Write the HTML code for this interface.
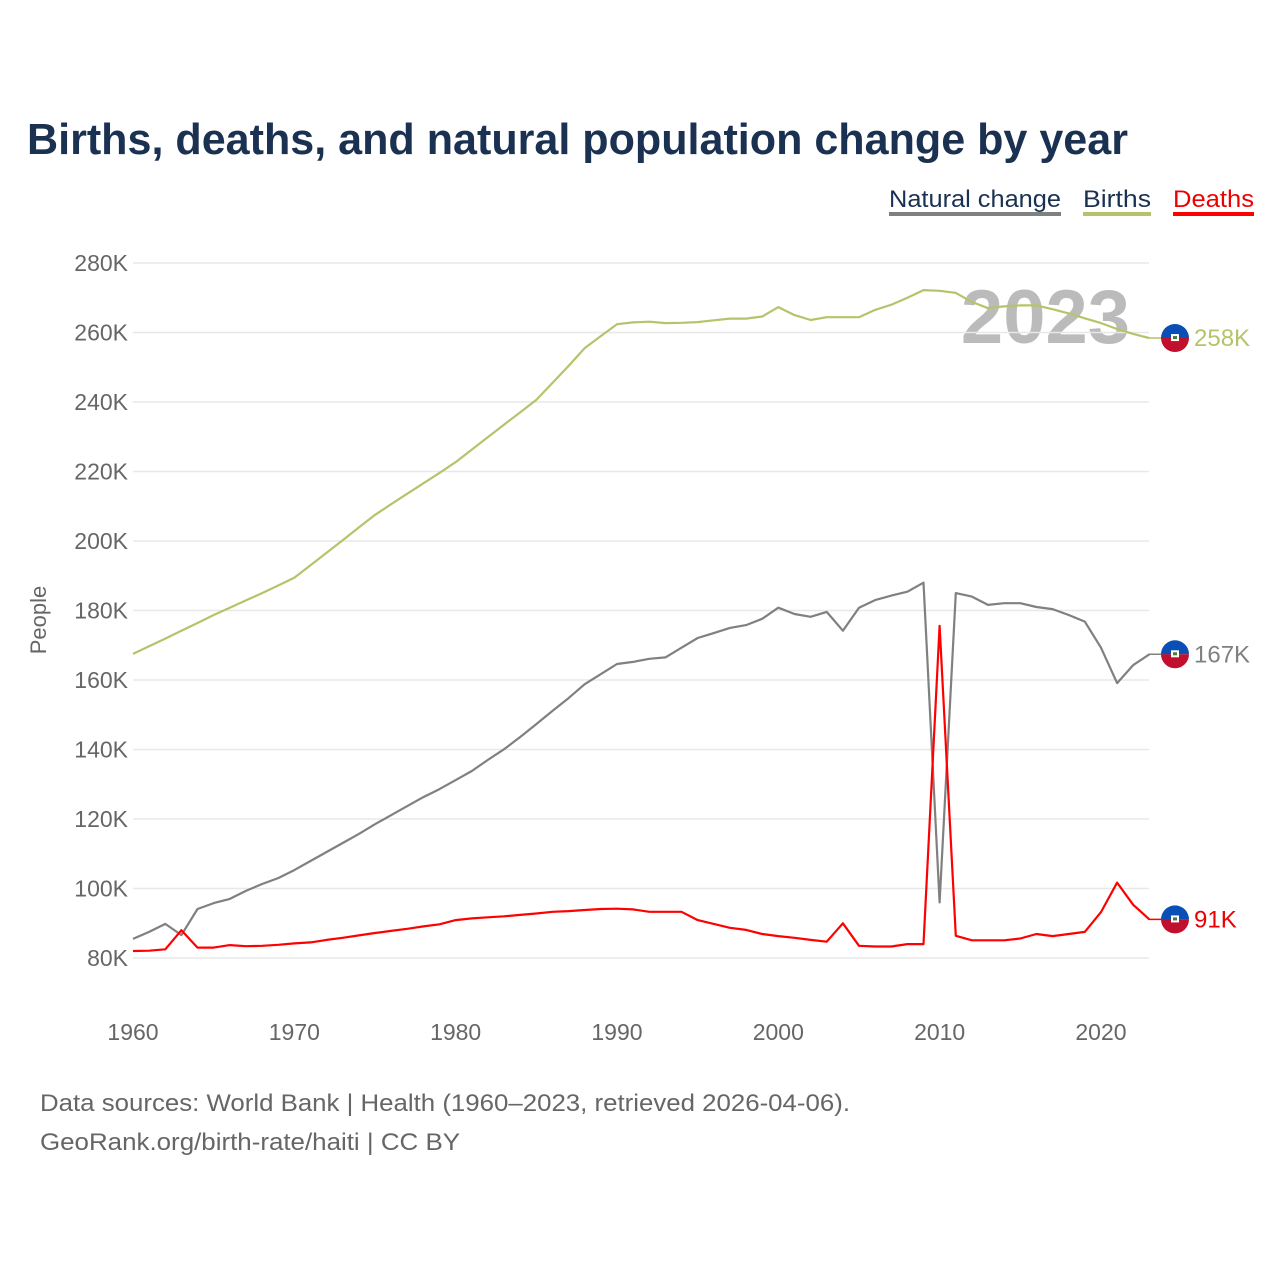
<!DOCTYPE html>
<html><head><meta charset="utf-8"><style>
html,body{margin:0;padding:0;background:#fff;}
svg text{font-family:"Liberation Sans",sans-serif;}
</style></head><body>
<svg width="1280" height="1280" viewBox="0 0 1280 1280">
<text x="27" y="154" font-size="44" font-weight="bold" fill="#1a3152" textLength="1101" lengthAdjust="spacingAndGlyphs">Births, deaths, and natural population change by year</text>
<g>
<g><text x="889" y="207" font-size="24" fill="#1a3152" textLength="172" lengthAdjust="spacingAndGlyphs">Natural change</text><rect x="889" y="212" width="172" height="4" fill="#808080"/></g>
<g><text x="1083" y="207" font-size="24" fill="#1a3152" textLength="68" lengthAdjust="spacingAndGlyphs">Births</text><rect x="1083" y="212" width="68" height="4" fill="#b5c46a"/></g>
<g><text x="1173" y="207" font-size="24" fill="#e00" textLength="81" lengthAdjust="spacingAndGlyphs">Deaths</text><rect x="1173" y="212" width="81" height="4" fill="#f00"/></g>
</g>
<text transform="translate(50,620) rotate(-90)" text-anchor="middle" font-size="22" fill="#666" x="0" y="-4">People</text>
<text x="1130" y="343" text-anchor="end" font-size="76" font-weight="bold" fill="#bbb">2023</text>
<g id="grid"></g><g id="series"></g><g id="labels"></g>
<text x="40" y="1111" font-size="24" fill="#666" textLength="810" lengthAdjust="spacingAndGlyphs">Data sources: World Bank | Health (1960–2023, retrieved 2026-04-06).</text>
<text x="40" y="1150" font-size="24" fill="#666" textLength="420" lengthAdjust="spacingAndGlyphs">GeoRank.org/birth-rate/haiti | CC BY</text>
</svg>
<script>
const years = Array.from({length:64},(_,i)=>1960+i);
const births = [167.5,169.7,171.9,174.2,176.4,178.7,180.8,182.9,185.0,187.2,189.4,193.0,196.6,200.2,203.9,207.5,210.6,213.6,216.6,219.6,222.7,226.3,229.9,233.5,237.0,240.6,245.5,250.4,255.5,259.0,262.4,262.9,263.1,262.7,262.8,263.0,263.5,264.0,264.0,264.6,267.3,265.0,263.6,264.4,264.4,264.4,266.5,268.0,270.0,272.2,272.0,271.4,268.8,267.0,267.5,267.8,267.8,266.7,265.5,264.1,262.7,261.0,259.6,258.4];
const natural = [85.5,87.5,89.8,86.6,94.1,95.8,97.0,99.3,101.3,103.0,105.3,107.9,110.5,113.1,115.7,118.5,121.1,123.7,126.3,128.6,131.2,133.8,137.0,140.1,143.6,147.3,151.1,154.8,158.8,161.7,164.6,165.2,166.1,166.5,169.3,172.1,173.5,175.0,175.8,177.6,180.8,179.0,178.2,179.6,174.2,180.8,183.0,184.3,185.4,188.0,96.0,185.0,184.0,181.6,182.1,182.1,181.0,180.4,178.7,176.8,169.3,159.1,164.3,167.4];
const deaths = [82.0,82.1,82.5,88.0,83.0,83.0,83.7,83.4,83.5,83.8,84.2,84.5,85.2,85.8,86.5,87.2,87.8,88.4,89.1,89.7,90.9,91.4,91.7,92.0,92.4,92.8,93.3,93.5,93.8,94.1,94.2,94.0,93.3,93.3,93.3,90.9,89.8,88.7,88.1,86.9,86.3,85.8,85.2,84.7,90.0,83.5,83.3,83.3,84.0,84.0,175.6,86.4,85.1,85.1,85.1,85.6,86.9,86.3,86.9,87.5,93.2,101.7,95.3,91.1];
const yTicks = [80,100,120,140,160,180,200,220,240,260,280];
const xTicks = [1960,1970,1980,1990,2000,2010,2020];
const endLabels = ["258K","167K","91K"];
const NS="http://www.w3.org/2000/svg";
const xs = y => 133 + (y-1960)*16.133;
const ys = v => 958 - (v-80)*3.475;
function mk(tag,attrs,parent){const e=document.createElementNS(NS,tag);for(const k in attrs)e.setAttribute(k,attrs[k]);parent.appendChild(e);return e;}
const grid=document.getElementById('grid'), ser=document.getElementById('series'), lab=document.getElementById('labels');
yTicks.forEach(t=>{
  const l=mk('line',{x1:133,x2:1149,y1:ys(t),y2:ys(t),stroke:'#e8e8e8','stroke-width':1.5},grid);
  
  
  const tx=mk('text',{x:128,y:ys(t)+8,'text-anchor':'end','font-size':23,fill:'#666'},grid);
  tx.textContent=t+'K';
  
  
});
xTicks.forEach(t=>{
  const tx=mk('text',{x:xs(t),y:1040,'text-anchor':'middle','font-size':23,fill:'#666'},grid);
  tx.textContent=t;
  
  
});
const defs=[[births,'#b5c46a','births-line'],[natural,'#808080','natural-change-line'],[deaths,'#ff0000','deaths-line']];
defs.forEach(([d,c,n],i)=>{
  const p=mk('polyline',{points:d.map((v,j)=>xs(years[j]).toFixed(1)+','+ys(v).toFixed(1)).join(' '),fill:'none',stroke:c,'stroke-width':2.2,'stroke-linejoin':'round'},ser);
  
  
  const last=d[d.length-1], y=ys(last), cx=1175;
  const g=mk('g',{},lab);
  
  
  mk('line',{x1:1149,x2:cx,y1:y,y2:y,stroke:c,'stroke-width':1.5},g);
  mk('path',{d:`M${cx-14},${y} A14,14 0 0 1 ${cx+14},${y} Z`,fill:'#0a4fb5'},g);
  mk('path',{d:`M${cx-14},${y} A14,14 0 0 0 ${cx+14},${y} Z`,fill:'#c0102e'},g);
  mk('rect',{x:cx-4,y:y-4,width:8,height:7,fill:'#fff'},g);
  mk('rect',{x:cx-2,y:y-2,width:4,height:3,fill:'#4a7a3a'},g);
  const tx=mk('text',{x:1194,y:y+8,'font-size':24,fill:c==='#ff0000'?'#e00':c},g);
  tx.textContent=endLabels[i];
  
  
});
</script>
</body></html>
